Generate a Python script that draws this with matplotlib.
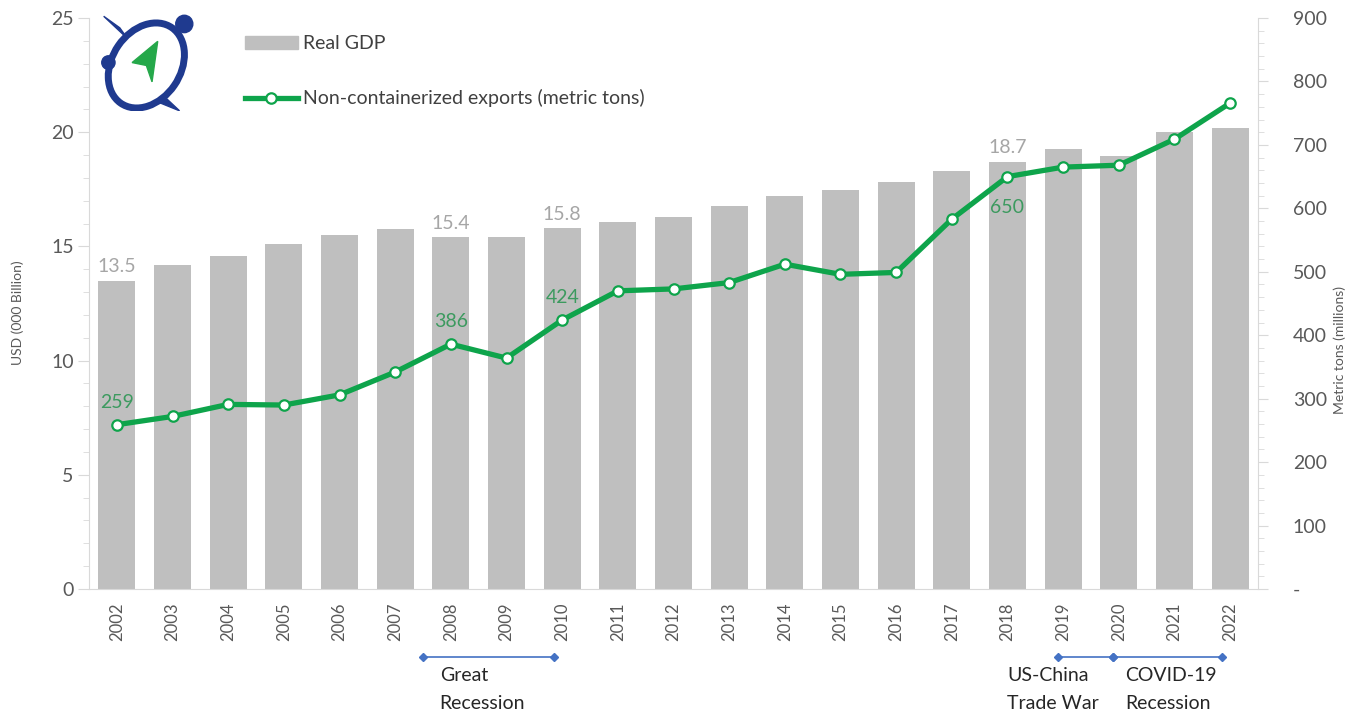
import matplotlib
matplotlib.use("Agg")
import matplotlib.pyplot as plt
from matplotlib.patches import Ellipse, Polygon, Circle
from matplotlib.lines import Line2D
from matplotlib.patches import Patch

plt.rcParams['font.family'] = ['Lato', 'DejaVu Sans']

# annual series
years = [str(y) for y in range(2002, 2023)]
gdp = [13.5, 14.2, 14.6, 15.1, 15.5, 15.75, 15.4, 15.4, 15.8, 16.05, 16.3,
       16.75, 17.2, 17.45, 17.8, 18.3, 18.7, 19.25, 18.95, 20.0, 20.2]
exports = [259, 272, 291, 290, 306, 342, 386, 364, 424, 470, 473,
           483, 512, 496, 499, 583, 650, 665, 668, 709, 766]

gdp_labelled = {0: "13.5", 6: "15.4", 8: "15.8", 16: "18.7"}
exp_labelled = {0: (259, 16), 6: (386, 16), 8: (424, 16), 16: (650, -22)}

# periods marked under the axis: (start/end, text lines, text x)
periods = [
    ([5.5, 7.85], "Great\nRecession", 5.8),
    ([16.9, 17.9], "US-China\nTrade War", 16.0),
    ([17.9, 19.85], "COVID-19\nRecession", 18.12),
]

GRAY = "#bfbfbf"
GREEN = "#0ea44b"
LABEL_GREEN = "#3c9a5f"
TXT = "#595959"
SPINE = "#d9d9d9"

fig = plt.figure(figsize=(13.55, 7.15), dpi=100)
ax = fig.add_axes([0.0657, 0.1762, 0.8627, 0.7986])
ax2 = ax.twinx()

x = list(range(len(years)))
ax.bar(x, gdp, width=0.66, color=GRAY, zorder=2)
ax.set_xlim(-0.5, 20.5)
ax.set_ylim(0, 25)
ax.set_yticks(range(0, 26, 5))
ax.set_yticks(range(0, 26, 1), minor=True)
ax.set_xticks(x)
ax.set_xticklabels(years, rotation=90, fontsize=12, color=TXT)
ax.tick_params(axis='x', length=0, pad=10)
ax.tick_params(axis='y', which='major', length=8, color=SPINE, labelsize=14,
               labelcolor=TXT, pad=3)
ax.tick_params(axis='y', which='minor', length=4, color=SPINE)

for i, s in gdp_labelled.items():
    ax.annotate(s, (i, gdp[i]), xytext=(0, 4), textcoords='offset points',
                ha='center', va='bottom', fontsize=14, color="#a6a6a6")

ax2.plot(x, exports, color=GREEN, lw=3.8, marker='o', ms=7.5,
         mfc='white', mec=GREEN, mew=1.6, zorder=3)
ax2.set_ylim(0, 900)
ax2.set_yticks(range(0, 901, 100))
ax2.set_yticklabels(["-"] + [str(v) for v in range(100, 901, 100)])
ax2.set_yticks(range(0, 901, 20), minor=True)
ax2.tick_params(axis='y', which='major', length=7, color=SPINE, labelsize=14,
                labelcolor=TXT, pad=18)
ax2.tick_params(axis='y', which='minor', length=4, color=SPINE)

for i, (v, off) in exp_labelled.items():
    ax2.annotate(str(v), (i, exports[i]), xytext=(0, off), textcoords='offset points',
                 ha='center', va='center', fontsize=14, color=LABEL_GREEN)

for a in (ax, ax2):
    a.spines['top'].set_visible(False)
ax.spines['right'].set_visible(False)
ax2.spines['left'].set_visible(False)
ax2.spines['bottom'].set_visible(False)
ax.spines['left'].set_color(SPINE)
ax.spines['bottom'].set_color(SPINE)
ax2.spines['right'].set_color(SPINE)

fig.text(0.0133, 0.563, "USD (000 Billion)", rotation=90, ha='center', va='center',
         fontsize=10, color=TXT)
fig.text(0.989, 0.51, "Metric tons (millions)", rotation=90, ha='center', va='center',
         fontsize=10, color=TXT)

# period brackets below the year labels
tr = ax.get_xaxis_transform()
for xs, label, tx in periods:
    ax.plot(xs, [-0.119, -0.119], transform=tr, color="#4472c4", lw=1.2,
            marker='D', ms=4, clip_on=False)
    ax.text(tx, -0.137, label, transform=tr, ha='left', va='top', fontsize=14,
            color="#262626", linespacing=1.75)

# legend
handles = [Patch(color=GRAY),
           Line2D([], [], color=GREEN, lw=3.8, marker='o', ms=7.5, mfc='white',
                  mec=GREEN, mew=1.6)]
leg = fig.legend(handles, ["Real GDP", "Non-containerized exports (metric tons)"],
                 loc='upper left', bbox_to_anchor=(0.168, 0.975), frameon=False,
                 fontsize=14, handlelength=2.7, handleheight=0.7, labelspacing=1.9,
                 handletextpad=0.3)
for t in leg.get_texts():
    t.set_color("#404040")

# logo
lg = fig.add_axes([0.073, 0.845, 0.07, 0.135])
lg.set_xlim(0, 1)
lg.set_ylim(0, 1)
lg.axis('off')
BLUE = "#1f3a8f"
lg.add_patch(Ellipse((0.5, 0.47), 0.72, 0.95, angle=-35, fill=False,
                     ec=BLUE, lw=5))
lg.add_patch(Circle((0.9, 0.9), 0.09, color=BLUE))
lg.add_patch(Circle((0.1, 0.5), 0.07, color=BLUE))
lg.add_patch(Polygon([[0.22, 0.86], [0.05, 0.98], [0.3, 0.75]], color=BLUE))
lg.add_patch(Polygon([[0.72, 0.12], [0.85, 0.0], [0.6, 0.1]], color=BLUE))
lg.add_patch(Polygon([[0.62, 0.72], [0.35, 0.5], [0.5, 0.47], [0.56, 0.3]],
                     color="#25a84a"))

fig.savefig("out.png", dpi=100)
